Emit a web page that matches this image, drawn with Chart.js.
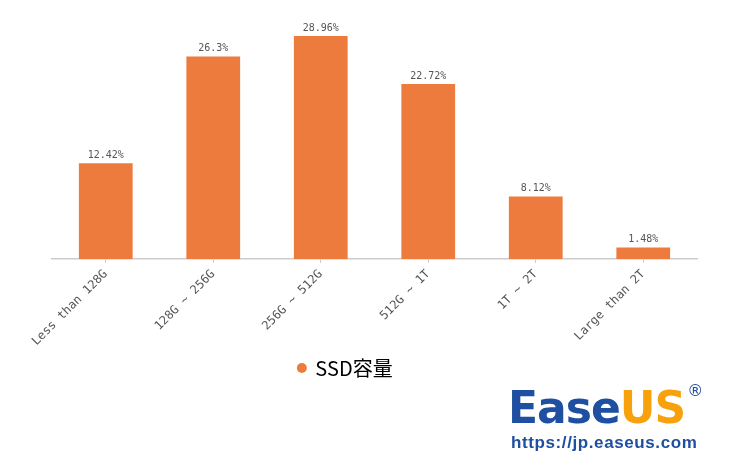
<!DOCTYPE html>
<html>
<head>
<meta charset="utf-8">
<script src="https://cdn.jsdelivr.net/npm/chart.js@4/dist/chart.umd.min.js"></script>
<style>
  html, body { margin: 0; padding: 0; background: #fff; }
  #wrap { position: relative; width: 730px; height: 468px; }
  #logo { position: absolute; left: 508px; top: 366px; }
  #logo .brand { font-family: "DejaVu Sans", sans-serif; font-weight: bold; font-size: 44px; letter-spacing: -1px; line-height: 50px; color: #1e4fa0; white-space: nowrap; }
  #logo .us { color: #f7a10c; }
  #logo sup { font-size: 16px; color: #1e4fa0; font-weight: normal; vertical-align: 27px; margin-left: 2px; }
  #logo .url { font-family: "Liberation Sans", Arial, sans-serif; font-weight: bold; font-size: 17px; color: #1e4fa0; margin-top: 0px; margin-left: 3px; letter-spacing: 0.6px; }
</style>
</head>
<body>
<div id="wrap">
  <canvas id="myChart" width="730" height="468"></canvas>
  <div id="logo">
    <div class="brand">Ease<span class="us">US</span><sup>®</sup></div>
    <div class="url">https://jp.easeus.com</div>
  </div>
</div>
<script>
const categories = ['Less than 128G', '128G ~ 256G', '256G ~ 512G', '512G ~ 1T', '1T ~ 2T', 'Large than 2T'];
const shares = [12.42, 26.3, 28.96, 22.72, 8.12, 1.48];
const shareLabels = ['12.42%', '26.3%', '28.96%', '22.72%', '8.12%', '1.48%'];

// value labels over the bars
const valueLabels = {
  id: 'valueLabels',
  afterLayout(chart) {
    // legend sits a bit left of centre in the original
    chart.legend.left -= 29;
    chart.legend.right -= 29;
  },
  afterDatasetsDraw(chart) {
    const ctx = chart.ctx;
    const meta = chart.getDatasetMeta(0);
    ctx.save();
    ctx.font = '10px "DejaVu Sans Mono", monospace';
    ctx.fillStyle = '#555';
    ctx.textAlign = 'center';
    ctx.textBaseline = 'bottom';
    meta.data.forEach((bar, i) => {
      ctx.fillText(shareLabels[i], bar.x, bar.y - 3);
    });
    ctx.restore();
  }
};

const ctx = document.getElementById('myChart').getContext('2d');
new Chart(ctx, {
  type: 'bar',
  data: {
    labels: categories,
    datasets: [{
      label: 'SSD容量',
      data: shares,
      backgroundColor: '#ed7b3d',
      borderWidth: 0,
      barPercentage: 0.5,
      categoryPercentage: 1
    }]
  },
  options: {
    responsive: false,
    animation: false,
    layout: { padding: { left: 52, right: 33, top: 28, bottom: 80 } },
    plugins: {
      tooltip: { enabled: false },
      legend: {
        position: 'bottom',
        labels: {
          usePointStyle: true,
          pointStyle: 'circle',
          boxWidth: 7,
          boxHeight: 7,
          color: '#000',
          padding: 12,
          font: { family: '"Noto Sans CJK JP", sans-serif', size: 20 }
        }
      }
    },
    scales: {
      x: {
        afterFit(scale) { scale.height = 87; },
        grid: { offset: false, drawOnChartArea: false, drawTicks: true, tickLength: 4, color: '#ccc' },
        border: { display: true, color: '#ccc', width: 1.5 },
        ticks: {
          minRotation: 45,
          maxRotation: 45,
          color: '#555',
          padding: 4,
          font: { family: '"DejaVu Sans Mono", monospace', size: 12 }
        }
      },
      y: {
        display: false,
        min: 0,
        max: 30
      }
    }
  },
  plugins: [valueLabels]
});
</script>
</body>
</html>
